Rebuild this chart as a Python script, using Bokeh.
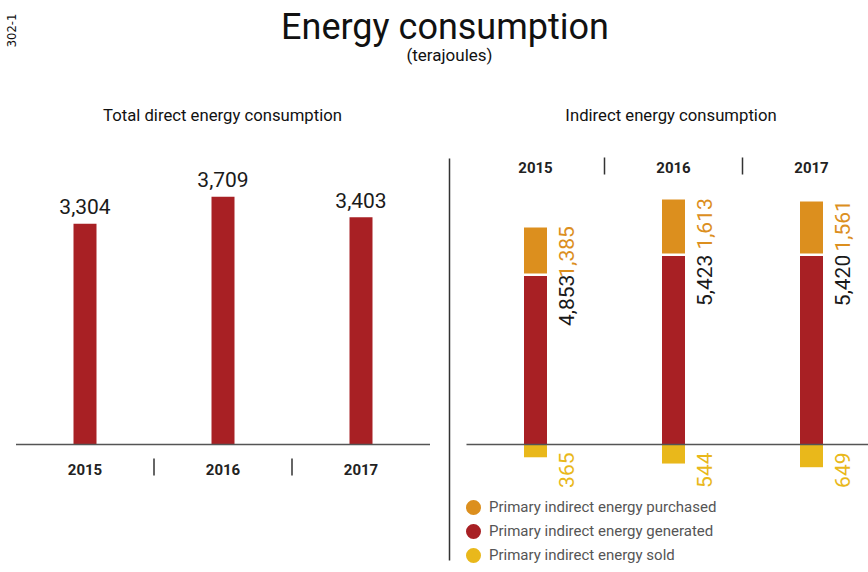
import math
from bokeh.plotting import figure
from bokeh.models import Range1d, Label, Legend, LegendItem, ColumnDataSource
from bokeh.core.properties import value
from bokeh.embed import file_html
from bokeh.resources import INLINE

# ---------------- data ----------------
years = ["2015", "2016", "2017"]
direct = [3304, 3709, 3403]
generated = [4853, 5423, 5420]
purchased = [1385, 1613, 1561]
sold = [365, 544, 649]

title_text = "Energy consumption"
subtitle_text = "(terajoules)"
left_title = "Total direct energy consumption"
right_title = "Indirect energy consumption"
side_code = "302-1"
legend_labels = ["Primary indirect energy purchased",
                 "Primary indirect energy generated",
                 "Primary indirect energy sold"]

# ---------------- style / layout ----------------
RED = "#A82024"
ORANGE = "#DC8F1E"
YELLOW = "#E9B81B"
DARK = "#1a1a1a"
FONT = value("Roboto")

W, H = 868, 572
BASE = 444          # baseline, px from top
STEP = 138          # px between categories
X0_L = 84.5         # px of first left category
X0_R = 535          # px of first right category
K_L = 0.0668        # px per terajoule, left panel
K_R = 0.035         # px per terajoule, right panel
BAR_W = 23

idx = list(range(len(years)))

p = figure(width=W, height=H, output_backend="svg", toolbar_location=None,
           x_axis_type=None, y_axis_type=None, min_border=0,
           x_range=Range1d(0, W), y_range=Range1d(H, 0),
           outline_line_color=None)
p.grid.visible = False
p.extra_x_ranges = {
    "lx": Range1d(-X0_L / STEP, (W - X0_L) / STEP),
    "rx": Range1d(-X0_R / STEP, (W - X0_R) / STEP),
}
p.extra_y_ranges = {
    "ly": Range1d(-(H - BASE) / K_L, BASE / K_L),
    "ry": Range1d(-(H - BASE) / K_R, BASE / K_R),
}

# ---------------- left panel ----------------
src_l = ColumnDataSource(dict(
    x=idx, top=direct, label=[f"{v:,}" for v in direct],
    year=years, zero=[0] * len(years)))
p.vbar(x="x", top="top", bottom=0, width=BAR_W / STEP, source=src_l,
       fill_color=RED, line_color=None, x_range_name="lx", y_range_name="ly")
p.text(x="x", y="top", text="label", source=src_l, x_range_name="lx", y_range_name="ly",
       text_align="center", text_baseline="alphabetic", y_offset=-17,
       text_font=FONT, text_font_size="21px", text_color=DARK)
p.segment(x0=[-0.5], x1=[len(years) - 0.5], y0=[0], y1=[0],
          x_range_name="lx", y_range_name="ly", line_color="#555555", line_width=1.5)
p.text(x="x", y="zero", text="year", source=src_l, x_range_name="lx", y_range_name="ly",
       y_offset=25, text_align="center", text_baseline="middle", text_font=FONT,
       text_font_size="15px", text_font_style="bold", text_color="#222222")
sep = [i + 0.5 for i in idx[:-1]]
p.segment(x0=sep, x1=sep, y0=[458] * len(sep), y1=[475] * len(sep),
          x_range_name="lx", line_color="#333333", line_width=1.5)

# ---------------- right panel ----------------
src_r = ColumnDataSource(dict(
    x=idx, gen=generated, pur_top=[g + q for g, q in zip(generated, purchased)],
    sold_bottom=[-s for s in sold], zero=[0] * len(years), year=years,
    gen_lbl=[f"{v:,}" for v in generated],
    pur_lbl=[f"{v:,}" for v in purchased],
    sold_lbl=[f"{v:,}" for v in sold]))
p.vbar(x="x", top="gen", bottom=0, width=BAR_W / STEP, source=src_r,
       fill_color=RED, line_color=None, x_range_name="rx", y_range_name="ry")
p.vbar(x="x", top="pur_top", bottom="gen", width=(BAR_W + 2.5) / STEP, source=src_r,
       fill_color=ORANGE, line_color="white", line_width=2.5,
       x_range_name="rx", y_range_name="ry")
p.vbar(x="x", top=0, bottom="sold_bottom", width=BAR_W / STEP, source=src_r,
       fill_color=YELLOW, line_color=None, x_range_name="rx", y_range_name="ry")
p.segment(x0=[-0.5], x1=[len(years) + 0.5], y0=[0], y1=[0],
          x_range_name="rx", y_range_name="ry", line_color="#555555", line_width=1.5)

common = dict(source=src_r, x_range_name="rx", y_range_name="ry", angle=math.pi / 2,
              text_align="right", text_baseline="alphabetic", x_offset=31,
              text_font=FONT, text_font_size="21px")
p.text(x="x", y="gen", text="gen_lbl", text_color=DARK, **common)
p.text(x="x", y="pur_top", text="pur_lbl", text_color=ORANGE, **common)
p.text(x="x", y="zero", text="sold_lbl", text_color=YELLOW, y_offset=8, **common)

p.text(x="x", y=166.5, text="year", source=src_r, x_range_name="rx",
       text_align="center", text_baseline="middle", text_font=FONT,
       text_font_size="15px", text_font_style="bold", text_color="#222222")
p.segment(x0=sep, x1=sep, y0=[157] * len(sep), y1=[174] * len(sep),
          x_range_name="rx", line_color="#333333", line_width=1.5)

# divider
p.segment(x0=[449], x1=[449], y0=[158], y1=[560], line_color="#333333", line_width=1.5)

# ---------------- legend ----------------
nan = float("nan")
leg_r = [p.scatter(x=[nan], y=[nan], size=10, marker="circle", fill_color=c,
                   line_color=c, line_width=5.4)
         for c in (ORANGE, RED, YELLOW)]
legend = Legend(items=[LegendItem(label=l, renderers=[r]) for l, r in zip(legend_labels, leg_r)],
                location=(461, 5), glyph_width=24, glyph_height=24, spacing=0,
                label_standoff=4, padding=0, margin=0, border_line_color=None,
                background_fill_alpha=0, label_text_font="Roboto",
                label_text_font_size="15px", label_text_color="#555555")
p.add_layout(legend)

# ---------------- titles ----------------
p.add_layout(Label(x=444.5, y=26, text=title_text, text_align="center", text_baseline="alphabetic",
                   text_font="Roboto", text_font_size="36px", text_color="#111111"))
p.add_layout(Label(x=449, y=54, text=subtitle_text, text_align="center", text_baseline="alphabetic",
                   text_font="Roboto", text_font_size="17px", text_color="#111111"))
p.add_layout(Label(x=222, y=115, text=left_title, text_align="center", text_baseline="alphabetic",
                   text_font="Roboto", text_font_size="16.7px", text_color="#111111"))
p.add_layout(Label(x=670.5, y=115, text=right_title, text_align="center", text_baseline="alphabetic",
                   text_font="Roboto", text_font_size="16.7px", text_color="#111111"))
p.add_layout(Label(x=11, y=30, text=side_code, angle=math.pi / 2, text_align="center",
                   text_baseline="middle", text_font="DejaVu Sans", text_font_size="11.5px",
                   text_color="#111111"))

open("out.html", "w").write(file_html(p, INLINE))
